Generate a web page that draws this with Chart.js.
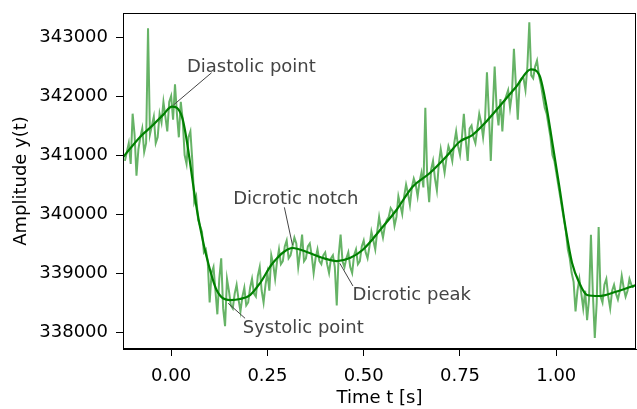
<!DOCTYPE html>
<html>
<head>
<meta charset="utf-8">
<script src="https://cdn.jsdelivr.net/npm/chart.js@4/dist/chart.umd.min.js"></script>
<style>
  html, body { margin: 0; padding: 0; background: #fff; }
  #wrap { width: 637px; height: 409px; }
</style>
</head>
<body>
<div id="wrap"><canvas id="pulse"></canvas></div>
<script>
// raw (noisy) signal
const tRaw = [
  -0.120, -0.115, -0.110, -0.105, -0.100, -0.095, -0.090, -0.085, -0.080, -0.075,
  -0.070, -0.065, -0.060, -0.055, -0.050, -0.045, -0.040, -0.035, -0.030, -0.025,
  -0.020, -0.015, -0.010, -0.005, 0.000, 0.005, 0.010, 0.015, 0.020, 0.025,
  0.030, 0.035, 0.040, 0.045, 0.050, 0.055, 0.060, 0.065, 0.070, 0.075,
  0.080, 0.085, 0.090, 0.095, 0.100, 0.105, 0.110, 0.115, 0.120, 0.125,
  0.130, 0.135, 0.140, 0.145, 0.150, 0.155, 0.160, 0.165, 0.170, 0.175,
  0.180, 0.185, 0.190, 0.195, 0.200, 0.205, 0.210, 0.215, 0.220, 0.225,
  0.230, 0.235, 0.240, 0.245, 0.250, 0.255, 0.260, 0.265, 0.270, 0.275,
  0.280, 0.285, 0.290, 0.295, 0.300, 0.305, 0.310, 0.315, 0.320, 0.325,
  0.330, 0.335, 0.340, 0.345, 0.350, 0.355, 0.360, 0.365, 0.370, 0.375,
  0.380, 0.385, 0.390, 0.395, 0.400, 0.405, 0.410, 0.415, 0.420, 0.425,
  0.430, 0.435, 0.440, 0.445, 0.450, 0.455, 0.460, 0.465, 0.470, 0.475,
  0.480, 0.485, 0.490, 0.495, 0.500, 0.505, 0.510, 0.515, 0.520, 0.525,
  0.530, 0.535, 0.540, 0.545, 0.550, 0.555, 0.560, 0.565, 0.570, 0.575,
  0.580, 0.585, 0.590, 0.595, 0.600, 0.605, 0.610, 0.615, 0.620, 0.625,
  0.630, 0.635, 0.640, 0.645, 0.650, 0.655, 0.660, 0.665, 0.670, 0.675,
  0.680, 0.685, 0.690, 0.695, 0.700, 0.705, 0.710, 0.715, 0.720, 0.725,
  0.730, 0.735, 0.740, 0.745, 0.750, 0.755, 0.760, 0.765, 0.770, 0.775,
  0.780, 0.785, 0.790, 0.795, 0.800, 0.805, 0.810, 0.815, 0.820, 0.825,
  0.830, 0.835, 0.840, 0.845, 0.850, 0.855, 0.860, 0.865, 0.870, 0.875,
  0.880, 0.885, 0.890, 0.895, 0.900, 0.905, 0.910, 0.915, 0.920, 0.925,
  0.930, 0.935, 0.940, 0.945, 0.950, 0.955, 0.960, 0.965, 0.970, 0.975,
  0.980, 0.985, 0.990, 0.995, 1.000, 1.005, 1.010, 1.015, 1.020, 1.025,
  1.030, 1.035, 1.040, 1.045, 1.050, 1.055, 1.060, 1.065, 1.070, 1.075,
  1.080, 1.085, 1.090, 1.095, 1.100, 1.105, 1.110, 1.115, 1.120, 1.125,
  1.130, 1.135, 1.140, 1.145, 1.150, 1.155, 1.160, 1.165, 1.170, 1.175,
  1.180, 1.185, 1.190, 1.195, 1.200
];
const yRaw = [
  340900, 341050, 341200, 340850, 341700, 341350, 340650, 341100, 341300, 341450,
  341050, 341200, 343150, 341350, 341500, 341650, 341200, 341300, 341700, 341550,
  341900, 341650, 341400, 341900, 342000, 341600, 342200, 341700, 341300, 341900,
  341600, 341000, 340850, 341300, 341400, 340900, 340200, 340300, 339900, 339800,
  339700, 339350, 339400, 339200, 338500, 339000, 339100, 338700, 338300, 338900,
  339250, 338400, 338100, 338900, 338700, 338450, 338400, 338650, 338800, 338550,
  338350, 338600, 338750, 338450, 338500, 338750, 338900, 338650, 338600, 338950,
  339100, 338700, 338500, 338800, 339000, 338700, 339300, 339150, 338900, 339200,
  339400, 339150, 339200, 339450, 339550, 339250, 339300, 339450, 339600, 339500,
  339100, 339350, 339650, 339200, 339250, 339450, 339500, 339300, 339000, 339250,
  339400, 339200, 339150, 339300, 339350, 339150, 339000, 339250, 339300, 339100,
  338450, 339300, 339650, 339200, 339100, 339250, 339350, 339100, 339000, 339300,
  339400, 339150, 339200, 339450, 339550, 339350, 339250, 339450, 339700, 339550,
  339400, 339700, 339950, 339750, 339600, 339800, 339900, 339950, 340100, 340050,
  339800, 339950, 340300, 340150, 340000, 340300, 340500, 340350, 340150, 340450,
  340600, 340500, 340300, 340550, 340700, 340450, 341800, 340600, 340200, 340750,
  340900, 340600, 340400, 340850, 341100, 340900, 340700, 340950, 341150, 341050,
  340900, 341200, 341400, 341150, 341000, 341300, 341700, 341250, 340900, 341450,
  341500, 341300, 341200, 341450, 341700, 341550, 341300, 341600, 342400, 341700,
  340900, 341750, 342500, 341800, 341500, 341950, 341400, 341900, 342000, 342100,
  341800, 342050, 342800, 342200, 341600, 342250, 342300, 342300, 342100, 342500,
  343250, 342350, 342300, 342500, 342600, 342350, 342200, 342000, 341800, 341700,
  341500, 341300, 341000, 340900, 340700, 340500, 340300, 340100, 339900, 339700,
  339400, 339250, 339000, 338850, 338350, 338700, 338900, 338650, 338400, 338700,
  338200, 338550, 339650, 338650, 337900, 338500, 339780, 338600, 338500, 338800,
  338900, 338600, 338400, 338700, 338800, 338650, 338550, 338700, 338950, 338750,
  338600, 338700, 338900, 338800, 338750
];

// smoothed signal
const tSmooth = [
  -0.124, -0.080, -0.047, -0.021, 0.002, 0.028, 0.067, 0.075, 0.092, 0.118,
  0.153, 0.179, 0.205, 0.231, 0.264, 0.316, 0.352, 0.394, 0.430, 0.464,
  0.497, 0.549, 0.585, 0.627, 0.671, 0.714, 0.749, 0.782, 0.818, 0.852,
  0.896, 0.934, 0.956, 0.973, 0.990, 1.008, 1.025, 1.041, 1.060, 1.080,
  1.111, 1.155, 1.207
];
const ySmooth = [
  340970, 341310, 341508, 341680, 341820, 341650, 340068, 339785, 339276, 338712,
  338542, 338560, 338627, 338830, 339170, 339424, 339356, 339254, 339203, 339254,
  339390, 339780, 340068, 340463, 340690, 340971, 341225, 341339, 341565, 341819,
  342158, 342452, 342356, 341880, 341200, 340463, 339729, 339170, 338830, 338627,
  338610, 338683, 338797
];

// annotations: label, text anchor (t, y), line from -> to
const notes = [
  { text: "Diastolic point", at: [0.041, 342412], from: [0.105, 342395], to: [0.006, 341847] },
  { text: "Dicrotic notch",  at: [0.161, 340170], from: [0.294, 340113], to: [0.315, 339475] },
  { text: "Dicrotic peak",   at: [0.471, 338542], from: [0.438, 339164], to: [0.472, 338780] },
  { text: "Systolic point",  at: [0.186, 337978], from: [0.148, 338487], to: [0.192, 338232] }
];

const xTicks = [0, 0.25, 0.5, 0.75, 1.0];
const yTicks = [338000, 339000, 340000, 341000, 342000, 343000];

const FONT = "'DejaVu Sans', sans-serif";

const framePlugin = {
  id: "frame",
  afterDatasetsDraw(chart) {
    const { ctx, chartArea: a, scales } = chart;
    ctx.save();
    // annotation lines + labels
    ctx.strokeStyle = "#444";
    ctx.lineWidth = 1;
    ctx.fillStyle = "#444";
    ctx.font = "18px " + FONT;
    ctx.textBaseline = "alphabetic";
    ctx.textAlign = "left";
    notes.forEach(n => {
      ctx.beginPath();
      ctx.moveTo(scales.x.getPixelForValue(n.from[0]), scales.y.getPixelForValue(n.from[1]));
      ctx.lineTo(scales.x.getPixelForValue(n.to[0]), scales.y.getPixelForValue(n.to[1]));
      ctx.stroke();
      ctx.fillText(n.text, scales.x.getPixelForValue(n.at[0]), scales.y.getPixelForValue(n.at[1]));
    });
    // box round the axes
    ctx.strokeStyle = "#000";
    ctx.lineWidth = 1;
    ctx.strokeRect(a.left + 0.5, a.top + 0.5, a.right - a.left - 1, a.bottom - a.top - 1);
    ctx.restore();
  }
};

new Chart(document.getElementById("pulse"), {
  type: "line",
  data: {
    datasets: [
      {
        data: tRaw.map((t, i) => ({ x: t, y: yRaw[i] })),
        borderColor: "rgba(0,128,0,0.6)",
        borderWidth: 2,
        pointRadius: 0,
        tension: 0
      },
      {
        data: tSmooth.map((t, i) => ({ x: t, y: ySmooth[i] })),
        borderColor: "#008000",
        borderWidth: 2.2,
        pointRadius: 0,
        cubicInterpolationMode: "monotone"
      }
    ]
  },
  options: {
    responsive: true,
    maintainAspectRatio: false,
    animation: false,
    layout: { padding: { top: 13, right: 1, left: 0, bottom: 0 } },
    plugins: { legend: { display: false }, tooltip: { enabled: false } },
    scales: {
      x: {
        type: "linear",
        min: -0.125,
        max: 1.207,
        afterFit: s => { s.height = 60; s.paddingLeft = 0; s.paddingRight = 0; },
        afterBuildTicks: s => { s.ticks = xTicks.map(v => ({ value: v })); },
        ticks: {
          color: "#000",
          font: { family: FONT, size: 18 },
          padding: 10,
          maxRotation: 0,
          callback: v => Number(v).toFixed(2)
        },
        grid: { drawOnChartArea: false, drawTicks: true, tickLength: 7, color: "#000", tickWidth: 1 },
        border: { display: true, color: "#000", width: 1 },
        title: {
          display: true,
          text: "Time t [s]",
          color: "#000",
          font: { family: FONT, size: 18 },
          padding: { top: 0, bottom: 0 }
        }
      },
      y: {
        type: "linear",
        min: 337712,
        max: 343407,
        afterFit: s => { s.width = 123; s.paddingTop = 0; s.paddingBottom = 0; },
        afterBuildTicks: s => { s.ticks = yTicks.map(v => ({ value: v })); },
        ticks: {
          color: "#000",
          font: { family: FONT, size: 18 },
          padding: 8,
          callback: v => String(v)
        },
        grid: { drawOnChartArea: false, drawTicks: true, tickLength: 7, color: "#000", tickWidth: 1 },
        border: { display: true, color: "#000", width: 1 },
        title: {
          display: true,
          text: "Amplitude y(t)",
          color: "#000",
          font: { family: FONT, size: 18 },
          padding: { top: 11, bottom: 0 }
        }
      }
    }
  },
  plugins: [framePlugin]
});
</script>
</body>
</html>
